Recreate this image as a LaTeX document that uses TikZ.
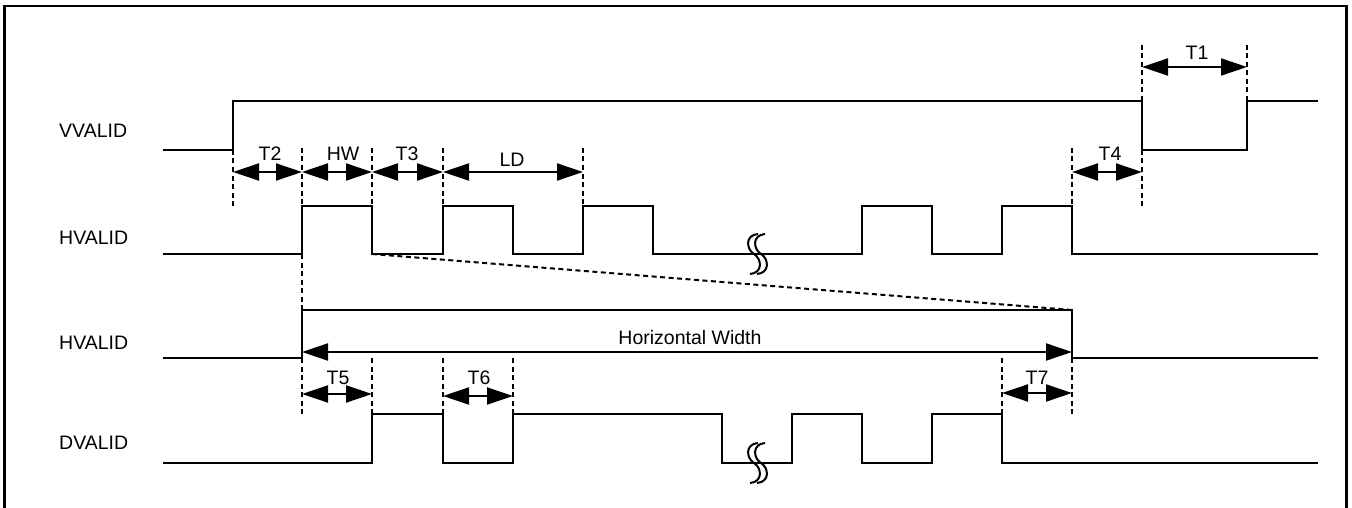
\documentclass[tikz,border=0pt]{standalone}
\usepackage{fontspec}
\setmainfont{Liberation Sans}
\usetikzlibrary{arrows.meta}

\begin{document}
\begin{tikzpicture}[x=1pt, y=-1pt,
    sig/.style={line width=2.8pt},
    guide/.style={line width=2pt, dash pattern=on 5pt off 3.5pt},
    dim/.style={line width=2pt, {Triangle[length=26pt,width=17pt]}-{Triangle[length=26pt,width=17pt]}},
    lbl/.style={font=\fontsize{19.5}{23}\selectfont, inner sep=0pt}]
    \useasboundingbox (0,0) rectangle (1352,508);
    \draw[line width=2.5pt] (4.5,6) rectangle (1346.5,520);

    % signal names
    \node[lbl, anchor=west] (vvalid) at (59,131) {VVALID};
    \node[lbl, anchor=west] (hvalidA) at (59,238) {HVALID};
    \node[lbl, anchor=west] (hvalidB) at (59,343) {HVALID};
    \node[lbl, anchor=west] (dvalid) at (59,443) {DVALID};

    % waveforms
    \draw[sig] (163,150) -| (233,101) -| (1142,150) -| (1247,101) -- (1318,101);
    \draw[sig] (163,254) -| (302,206) -| (372,254) -| (443,206) -| (513,254) -| (583,206) -| (653,254)
        -| (862,206) -| (932,254) -| (1002,206) -| (1072,254) -- (1318,254);
    \draw[sig] (163,358) -| (302,310) -| (1072,358) -- (1318,358);
    \draw[sig] (163,463) -| (372,414) -| (443,463) -| (513,414) -| (722,463) -| (792,414) -| (862,463)
        -| (932,414) -| (1002,463) -- (1318,463);

    % breaks
    \foreach \y in {254,463}
      \foreach \cx in {754,761}
        \draw[line width=2pt] (\cx+4,\y-20) .. controls (\cx-9,\y-19) and (\cx-8,\y-5) .. (\cx,\y)
          .. controls (\cx+8,\y+5) and (\cx+9,\y+19) .. (\cx-4,\y+20);

    % guides
    \draw[guide] (233,150) -- (233,208);
    \draw[guide] (302,148) -- (302,206) (302,254) -- (302,310) (302,358) -- (302,415);
    \draw[guide] (372,148) -- (372,206) (372,358) -- (372,414);
    \draw[guide] (443,148) -- (443,206) (443,358) -- (443,414);
    \draw[guide] (513,358) -- (513,414);
    \draw[guide] (583,148) -- (583,206);
    \draw[guide] (1002,358) -- (1002,414);
    \draw[guide] (1072,148) -- (1072,206) (1072,358) -- (1072,415);
    \draw[guide] (1142,150) -- (1142,208) (1142,45) -- (1142,101);
    \draw[guide] (1247,45) -- (1247,101);
    \draw[guide] (372,254) -- (1072,310);

    % timings
    \draw[dim] (233,172) -- (302,172);
    \node[lbl] (t2) at (270,154) {T2};
    \draw[dim] (302,172) -- (372,172);
    \node[lbl] (hw) at (343,154) {HW};
    \draw[dim] (372,172) -- (443,172);
    \node[lbl] (t3) at (407,154) {T3};
    \draw[dim] (443,172) -- (583,172);
    \node[lbl] (ld) at (512,160) {LD};
    \draw[dim] (1072,172) -- (1142,172);
    \node[lbl] (t4) at (1110,154) {T4};
    \draw[dim] (1142,67) -- (1247,67);
    \node[lbl] (t1) at (1197,53) {T1};
    \draw[dim] (302,352) -- (1072,352);
    \node[lbl] (width) at (690,338) {Horizontal Width};
    \draw[dim] (302,394) -- (372,394);
    \node[lbl] (t5) at (338,378) {T5};
    \draw[dim] (443,396) -- (513,396);
    \node[lbl] (t6) at (479,378) {T6};
    \draw[dim] (1002,393) -- (1072,393);
    \node[lbl] (t7) at (1037,378) {T7};
  \end{tikzpicture}
\end{document}
